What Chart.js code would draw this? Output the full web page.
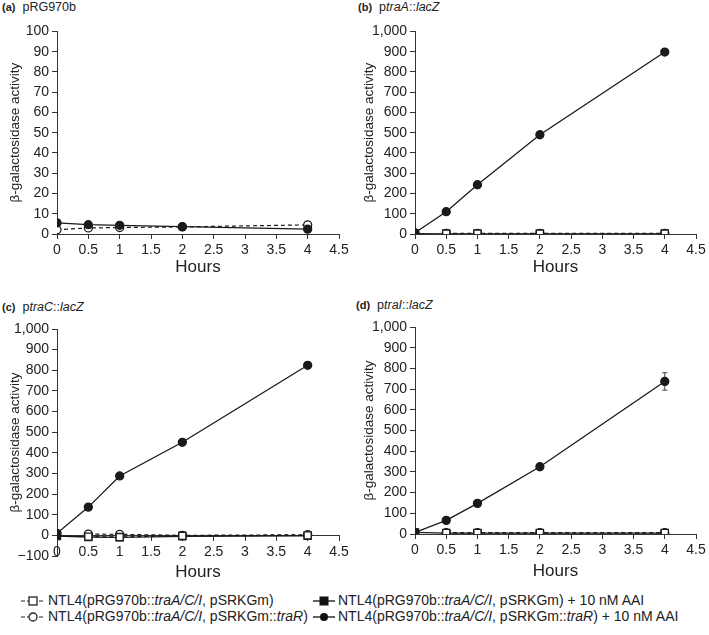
<!DOCTYPE html>
<html>
<head>
<meta charset="utf-8">
<script src="https://cdn.jsdelivr.net/npm/chart.js@4.4.1/dist/chart.umd.min.js"></script>
<style>
  body { margin: 0; background: #fff; font-family: "Liberation Sans", Arial, sans-serif; color: #222; }
  #page { position: relative; width: 709px; height: 635px; overflow: hidden; background: #fff; }
  .panel { position: absolute; }
  .ptitle { position: absolute; font-size: 12.5px; line-height: 14px; white-space: nowrap; }
  .ptitle b { font-size: 11px; margin-right: 7px; }
  .leg { position: absolute; font-size: 14px; line-height: 16px; white-space: nowrap; }
  .leg svg { vertical-align: -1px; margin-right: 3px; }
</style>
</head>
<body>
<div id="page">
  <div class="ptitle" style="left:2px; top:0px;"><b>(a)</b>pRG970b</div>
  <div class="ptitle" style="left:358px; top:0px;"><b>(b)</b>p<i>traA</i>::<i>lacZ</i></div>
  <div class="ptitle" style="left:2px; top:300px;"><b>(c)</b>p<i>traC</i>::<i>lacZ</i></div>
  <div class="ptitle" style="left:356px; top:298px;"><b>(d)</b>p<i>traI</i>::<i>lacZ</i></div>

  <div class="panel" style="left:0; top:20px; width:354px; height:270px;"><canvas id="chartA"></canvas></div>
  <div class="panel" style="left:354px; top:20px; width:355px; height:270px;"><canvas id="chartB"></canvas></div>
  <div class="panel" style="left:0; top:300px; width:354px; height:290px;"><canvas id="chartC"></canvas></div>
  <div class="panel" style="left:354px; top:300px; width:355px; height:290px;"><canvas id="chartD"></canvas></div>

  <div class="leg" style="left:21px; top:592px;">
    <svg width="24" height="10"><line x1="0" y1="5" x2="24" y2="5" stroke="#222" stroke-width="1.2" stroke-dasharray="4,2"/><rect x="8" y="1" width="8" height="8" fill="#fff" stroke="#222" stroke-width="1.3"/></svg>NTL4(pRG970b::<i>traA/C/I</i>, pSRKGm)
  </div>
  <div class="leg" style="left:21px; top:608px;">
    <svg width="24" height="10"><line x1="0" y1="5" x2="24" y2="5" stroke="#222" stroke-width="1.2" stroke-dasharray="4,2"/><circle cx="12" cy="5" r="4" fill="#fff" stroke="#222" stroke-width="1.3"/></svg>NTL4(pRG970b::<i>traA/C/I</i>, pSRKGm::<i>traR</i>)
  </div>
  <div class="leg" style="left:313px; top:592px;">
    <svg width="22" height="10"><line x1="0" y1="5" x2="22" y2="5" stroke="#222" stroke-width="1.4"/><rect x="7" y="1" width="8" height="8" fill="#111" stroke="#111" stroke-width="1"/></svg>NTL4(pRG970b::<i>traA/C/I</i>, pSRKGm) + 10 nM AAI
  </div>
  <div class="leg" style="left:313px; top:608px;">
    <svg width="22" height="10"><line x1="0" y1="5" x2="22" y2="5" stroke="#222" stroke-width="1.4"/><circle cx="11" cy="5" r="4" fill="#111"/></svg>NTL4(pRG970b::<i>traA/C/I</i>, pSRKGm::<i>traR</i>) + 10 nM AAI
  </div>
</div>

<script>
// sampling times and axis ticks
const hours = [0, 0.5, 1, 2, 4];
const xTicks = [0, 0.5, 1, 1.5, 2, 2.5, 3, 3.5, 4, 4.5];
const yTicksA = [0, 10, 20, 30, 40, 50, 60, 70, 80, 90, 100];
const yTicksB = [0, 100, 200, 300, 400, 500, 600, 700, 800, 900, 1000];
const yTicksC = [-100, 0, 100, 200, 300, 400, 500, 600, 700, 800, 900, 1000];
const yTicksD = [0, 100, 200, 300, 400, 500, 600, 700, 800, 900, 1000];

// (a) pRG970b
const vecTraR = [2.1, 3, 3.2, 3.5, 4.5];
const vecTraRAai = [5.5, 4.6, 4.3, 3.6, 2.4];

// (b) ptraA::lacZ
const traAEmpty = [null, 2, 2, 2, 2];
const traAEmptyAai = [2, 1, 1, 1, 1];
const traATraR = [null, 3, 3, 3, 3];
const traATraRAai = [6, 110, 243, 490, 898];

// (c) ptraC::lacZ
const traCEmpty = [null, -6, -8, -2, 0];
const traCEmptyAai = [-3, -8, -10, -5, -2];
const traCTraR = [null, 6, 5, 0, 3];
const traCTraRAai = [10, 137, 288, 451, 824];

// (d) ptraI::lacZ
const traIEmpty = [null, 5, 5, 5, 5];
const traIEmptyAai = [8, 4, 4, 4, 4];
const traITraR = [null, 6, 6, 6, 6];
const traITraRAai = [8, 66, 148, 325, 737];
const traITraRAaiErr = [0, 4, 5, 8, 42];

const ink = '#1a1a1a';
const axisInk = '#333';

function points(values) {
  return hours.map((h, i) => ({ x: h, y: values[i] }));
}

function seriesStyle(kind) {
  const open = kind === 'openSquare' || kind === 'openCircle';
  const square = kind === 'openSquare' || kind === 'filledSquare';
  return {
    borderColor: ink,
    borderWidth: open ? 1.2 : 1.3,
    borderDash: open ? [4, 3] : [],
    pointStyle: square ? 'rect' : 'circle',
    pointRadius: square ? 5 : 4,
    pointBorderWidth: 1.3,
    pointBorderColor: ink,
    pointBackgroundColor: open ? '#fff' : ink,
    fill: false,
    tension: 0
  };
}

const errorBars = {
  id: 'errorBars',
  beforeDatasetsDraw(chart) {
    const ctx = chart.ctx;
    const yScale = chart.scales.y;
    chart.data.datasets.forEach((ds, i) => {
      if (!ds.errors) return;
      const meta = chart.getDatasetMeta(i);
      ctx.save();
      ctx.strokeStyle = '#444';
      ctx.lineWidth = 1;
      ds.data.forEach((pt, j) => {
        const err = ds.errors[j];
        if (!err || pt.y == null) return;
        const x = meta.data[j].x;
        const top = yScale.getPixelForValue(pt.y + err);
        const bottom = yScale.getPixelForValue(pt.y - err);
        ctx.beginPath();
        ctx.moveTo(x, top); ctx.lineTo(x, bottom);
        ctx.moveTo(x - 2.5, top); ctx.lineTo(x + 2.5, top);
        ctx.moveTo(x - 2.5, bottom); ctx.lineTo(x + 2.5, bottom);
        ctx.stroke();
      });
      ctx.restore();
    });
  }
};

function fmt(v) {
  return v < 0 ? '\u2212' + Math.abs(v).toLocaleString('en-US') : v.toLocaleString('en-US');
}

function buildChart(id, cfg) {
  const xScale = {
    type: 'linear',
    min: 0,
    max: 4.5,
    afterBuildTicks: s => { s.ticks = xTicks.map(v => ({ value: v })); },
    afterFit: s => { s.height = 56; },
    border: { display: true, color: axisInk, width: 1 },
    grid: { display: true, drawOnChartArea: false, drawTicks: true, tickLength: 5, color: axisInk },
    ticks: { color: '#222', font: { size: 14, family: 'Liberation Sans' }, padding: 3, maxRotation: 0, autoSkip: false, callback: v => String(v) },
    title: { display: true, text: 'Hours', color: '#222', font: { size: 17, family: 'Liberation Sans' }, padding: { top: 4, bottom: cfg.hoursPad } }
  };
  if (cfg.xAtZero) xScale.position = { y: 0 };

  new Chart(document.getElementById(id), {
    type: 'line',
    data: { datasets: cfg.datasets },
    options: {
      responsive: true,
      maintainAspectRatio: false,
      animation: false,
      events: [],
      layout: { padding: cfg.padding },
      plugins: { legend: { display: false }, tooltip: { enabled: false } },
      scales: {
        x: xScale,
        y: {
          type: 'linear',
          min: cfg.yTicks[0],
          max: cfg.yTicks[cfg.yTicks.length - 1],
          afterBuildTicks: s => { s.ticks = cfg.yTicks.map(v => ({ value: v })); },
          afterFit: s => { s.width = cfg.yWidth; },
          border: { display: true, color: axisInk, width: 1 },
          grid: { display: true, drawOnChartArea: false, drawTicks: true, tickLength: 5, color: axisInk },
          ticks: { color: '#222', font: { size: 14, family: 'Liberation Sans' }, padding: 3, autoSkip: false, callback: v => fmt(v) },
          title: { display: true, text: '\u03b2-galactosidase activity', color: '#222', font: { size: 13.5, family: 'Liberation Sans' }, padding: { top: 7, bottom: 0 } }
        }
      }
    },
    plugins: [errorBars]
  });
}

function fourSeries(empty, emptyAai, traR, traRAai, err) {
  const filledCircle = Object.assign({ data: points(traRAai), order: 2 }, seriesStyle('filledCircle'));
  if (err) filledCircle.errors = err;
  return [
    Object.assign({ data: points(empty), order: 0 }, seriesStyle('openSquare')),
    Object.assign({ data: points(traR), order: 1 }, seriesStyle('openCircle')),
    filledCircle,
    Object.assign({ data: points(emptyAai), order: 3 }, seriesStyle('filledSquare'))
  ];
}

buildChart('chartA', {
  yTicks: yTicksA, yWidth: 57, hoursPad: 12,
  padding: { top: 7, right: 15, left: 0, bottom: 0 },
  datasets: [
    Object.assign({ data: points(vecTraR), order: 1 }, seriesStyle('openCircle')),
    Object.assign({ data: points(vecTraRAai), order: 0 }, seriesStyle('filledCircle'))
  ]
});

buildChart('chartB', {
  yTicks: yTicksB, yWidth: 61, hoursPad: 12,
  padding: { top: 7, right: 13, left: 0, bottom: 0 },
  datasets: fourSeries(traAEmpty, traAEmptyAai, traATraR, traATraRAai)
});

buildChart('chartC', {
  yTicks: yTicksC, yWidth: 57, hoursPad: 9, xAtZero: true,
  padding: { top: 29, right: 15, left: 0, bottom: 34 },
  datasets: fourSeries(traCEmpty, traCEmptyAai, traCTraR, traCTraRAai)
});

buildChart('chartD', {
  yTicks: yTicksD, yWidth: 61, hoursPad: 8,
  padding: { top: 27, right: 13, left: 0, bottom: 0 },
  datasets: fourSeries(traIEmpty, traIEmptyAai, traITraR, traITraRAai, traITraRAaiErr)
});
</script>
</body>
</html>
